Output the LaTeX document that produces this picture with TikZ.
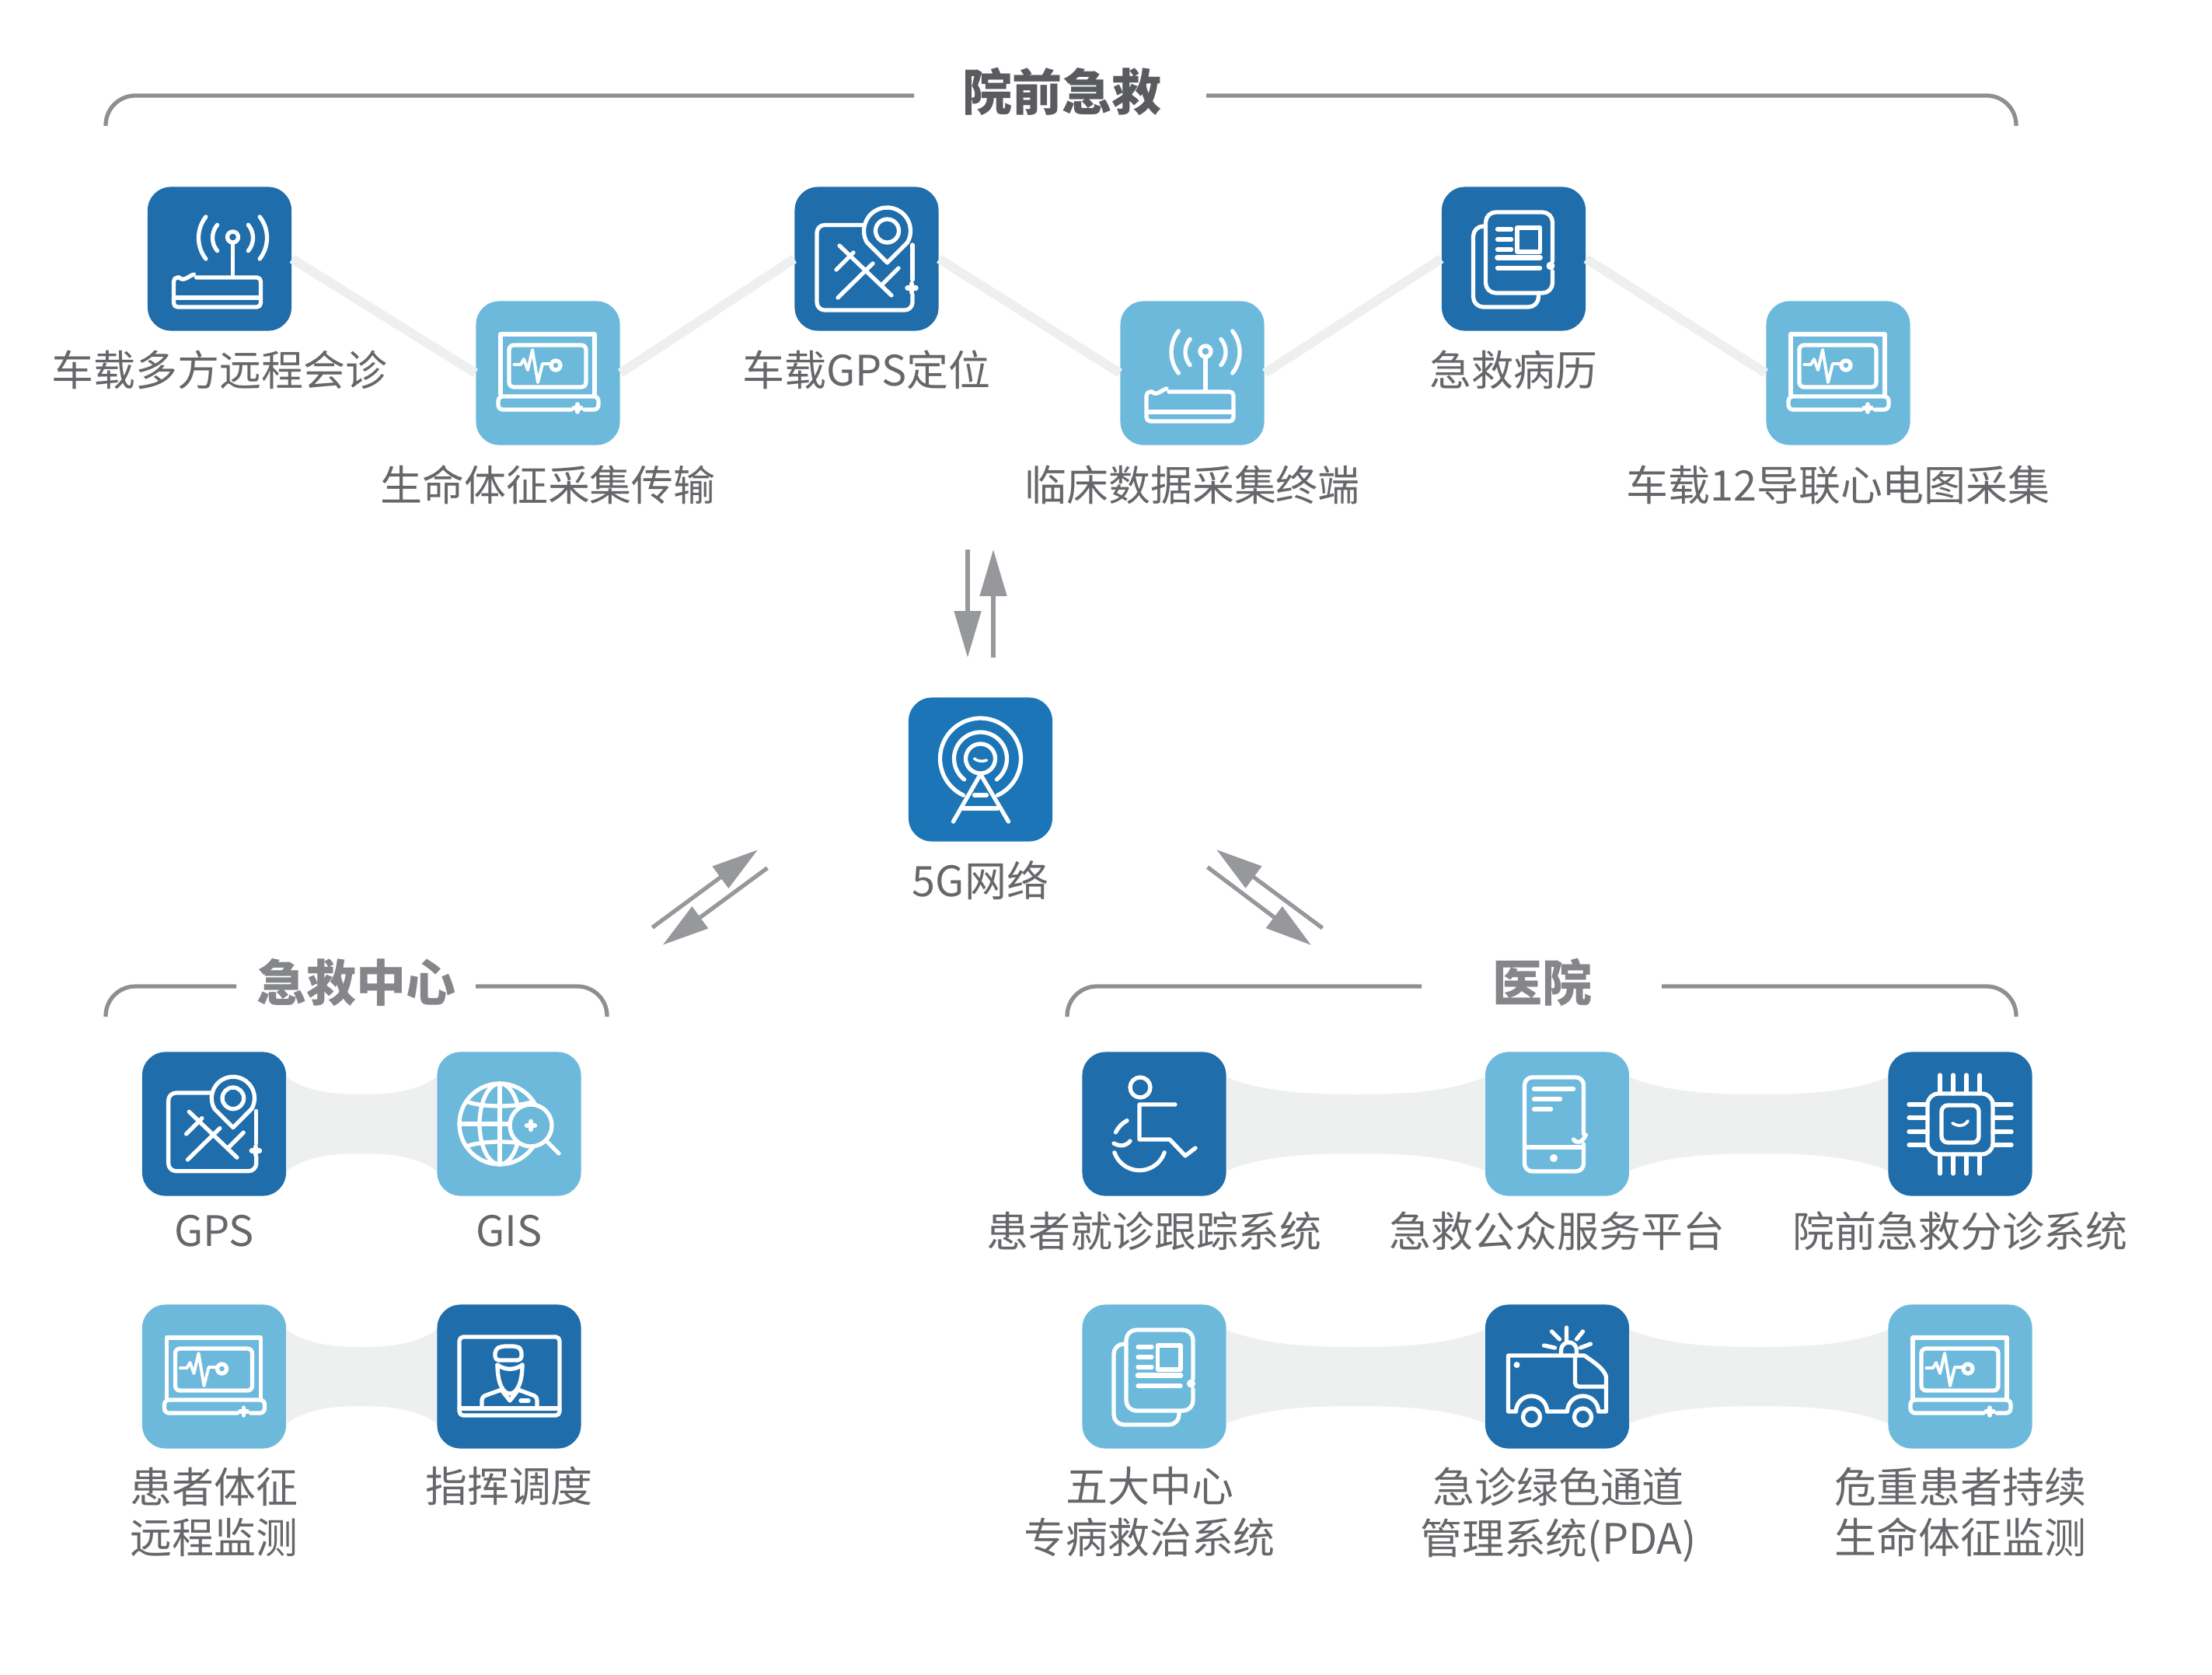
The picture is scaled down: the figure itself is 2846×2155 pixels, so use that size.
\documentclass[tikz,border=0pt]{standalone}
\usepackage{fontspec}
\setmainfont{Noto Sans CJK SC}
\usetikzlibrary{arrows.meta,calc}
\definecolor{boxdark}{HTML}{1F6DAB}
\definecolor{boxnet}{HTML}{1B75B7}
\definecolor{boxlight}{HTML}{6DB9DC}
\definecolor{txt}{HTML}{66676A}
\definecolor{ttl}{HTML}{85868A}
\definecolor{ttltop}{HTML}{5A5B5F}
\definecolor{brk}{HTML}{8E8F92}
\definecolor{arrc}{HTML}{97989C}
\definecolor{bandc}{HTML}{EEF0F0}
\tikzset{
  iconbox/.style={minimum size=1.85cm,inner sep=0pt,rounded corners=0.3cm,draw=none},
  dbox/.style={iconbox,fill=boxdark},
  nbox/.style={iconbox,fill=boxnet},
  lbox/.style={iconbox,fill=boxlight},
  lab/.style={font=\fontsize{15.35}{18.5}\selectfont,text=txt,align=center,inner sep=0pt,anchor=center},
  ttlstyle/.style={font=\fontsize{18.2}{20}\selectfont\bfseries,text=ttl,inner sep=0pt,anchor=center},
  brkline/.style={draw=brk,line width=1.5pt,rounded corners=0.38cm},
  zig/.style={draw=bandc,line width=3.4pt},
  arr/.style={draw=arrc,line width=1.5pt,-{Triangle[length=17pt,width=9.6pt]}},
  ic/.style={draw=white,line width=1.5pt,line cap=round,line join=round},
  icrouter/.pic={
    \draw[ic] (17,-28) circle[radius=7];
    \draw[ic] (17,-21) -- (17,23);
    \draw[ic] (17,-27)+(-40:26) arc[start angle=-40,end angle=40,radius=26];
    \draw[ic] (17,-27)+(140:26) arc[start angle=140,end angle=220,radius=26];
    \draw[ic] (17,-27)+(-38:44) arc[start angle=-38,end angle=38,radius=44];
    \draw[ic] (17,-27)+(142:44) arc[start angle=142,end angle=218,radius=44];
    \draw[ic,rounded corners=0.05cm] (-30,24) -- (53,24) -- (53,62) -- (-59,62) -- (-59,24) -- (-52,24);
    \draw[ic] (-52,24) .. controls (-46,30) and (-40,22) .. (-33,20);
    \draw[ic] (-59,50) -- (53,50);
  },
  iclaptop/.pic={
    \draw[ic] (-61,28) -- (-61,-50) -- (60,-50) -- (60,28);
    \draw[ic,rounded corners=0.06cm] (-50,-36) rectangle (49,18);
    \draw[ic,rounded corners=0.06cm] (30,47) -- (-64,47) -- (-64,30) -- (65,30) -- (65,47) -- (47,47);
    \draw[ic] (38,40) -- (38,50) (33,45) -- (43,45);
    \draw[ic,line width=1.1pt] (-44,-11) -- (-35,-11) -- (-31,-18) -- (-26,-4) -- (-20,-30) -- (-13,12) -- (-7,-12) -- (4,-12);
    \draw[ic] (10,-10) circle[radius=6];
  },
  icmap/.pic={
    \draw[ic,rounded corners=0.1cm] (-4,-43.5) -- (-64,-43.5) -- (-64,66) -- (59,66) -- (59,46);
    \draw[ic] (59,-18) -- (59,27);
    \draw[ic] (0.5,-21) arc[start angle=150,end angle=390,radius=30] -- (26.5,5) -- cycle;
    \draw[ic] (26.5,-36) circle[radius=15];
    \draw[ic] (-35,-17) -- (32,47);
    \draw[ic] (-37,50) -- (8,6);
    \draw[ic] (-39,14) -- (-17,-8);
    \draw[ic] (19,34) -- (41,12);
    \draw[ic,line width=1.8pt] (58,32) -- (58,43) (52.5,37.5) -- (63.5,37.5);
  },
  icdoc/.pic={
    \draw[ic,rounded corners=0.13cm] (50,3) -- (50,-60) -- (-36,-60) -- (-36,44) -- (50,44) -- (50,16);
    \draw[ic,rounded corners=0.13cm] (-36,-42) -- (-52,-42) -- (-52,62) -- (32,62) -- (32,44);
    \draw[ic] (4.5,-40) rectangle (34,-9);
    \draw[ic] (-21,-38) -- (-3,-38) (-21,-25) -- (-3,-25) (-21,-12) -- (-3,-12);
    \draw[ic,line width=1.9pt] (-21,-1.5) -- (34,-1.5);
    \draw[ic] (-21,12) -- (34,12);
    \fill[white] (47.5,9) circle[radius=5.5];
  },
  ictower/.pic={
    \draw[ic] (0,-14)+(115:52) arc[start angle=115,end angle=425,radius=52];
    \draw[ic] (0,-14)+(128:34) arc[start angle=128,end angle=412,radius=34];
    \draw[ic] (0,-14) circle[radius=19];
    \draw[ic] (-35,67) -- (0,6) -- (36,67);
    \draw[ic] (-22,50) -- (22,50);
    \draw[ic] (-8,33) -- (8,33);
    \draw[ic,line width=1pt] (-8,-14) .. controls (-3,-10) and (3,-10) .. (8,-12);
  },
  icglobe/.pic={
    \draw[ic] (-12,0) circle[radius=52];
    \draw[ic] (-12,0) ellipse[x radius=26,y radius=52];
    \draw[ic] (-12,-52) -- (-12,52) (-64,0) -- (40,0);
    \draw[ic] (-55,-29) .. controls (-35,-21) and (11,-21) .. (31,-29);
    \draw[ic] (-55,29) .. controls (-35,21) and (11,21) .. (31,29);
    \draw[ic,fill=boxlight] (28,2) circle[radius=27];
    \draw[ic] (47,21) -- (64,38);
    \draw[ic,line width=1.8pt] (28,-3) -- (28,7) (23,2) -- (33,2);
  },
  icdoctor/.pic={
    \draw[ic,rounded corners=0.05cm] (-64,-51) rectangle (65,50);
    \draw[ic] (-64,41) -- (65,41);
    \draw[ic,rounded corners=0.05cm] (-18,-21) -- (-18,-35) -- (-10,-39) -- (10,-39) -- (16,-35) -- (16,-21) -- cycle;
    \draw[ic] (-15,-15) .. controls (-15,8) and (-8,22) .. (1,22) .. controls (10,22) and (17,8) .. (17,-15);
    \draw[ic] (-15,-15) .. controls (-5,-8) and (7,-8) .. (17,-15);
    \draw[ic,rounded corners=0.04cm] (-35,39) -- (-35,26) -- (-10,17);
    \draw[ic,rounded corners=0.04cm] (36,39) -- (36,26) -- (12,17);
    \draw[ic] (-10,17) -- (1,31) -- (12,17);
    \draw[ic] (15,31) -- (25,31);
  },
  icchair/.pic={
    \draw[ic] (-18,-47) circle[radius=13];
    \draw[ic] (27,-25) -- (-19,-25) -- (-19,20) -- (20,20) -- (40,41) -- (53,31);
    \draw[ic] (-19,25.7)+(19:34) arc[start angle=19,end angle=161,radius=34];
    \draw[ic] (-19,25.7)+(206:34) arc[start angle=206,end angle=242,radius=34];
    \draw[ic] (-52,25) .. controls (-42,30) and (-36,28) .. (-31,22);
  },
  icphone/.pic={
    \draw[ic,rounded corners=0.1cm] (34,13) -- (34,-60) -- (-42,-60) -- (-42,61) -- (34,61) -- (34,26);
    \draw[ic] (-42,30) -- (34,30);
    \fill[white] (-4.5,44) circle[radius=5];
    \draw[ic] (-30,-45) -- (21,-45);
    \draw[ic] (-30,-32) -- (4,-32);
    \draw[ic] (-30,-19) -- (-8,-19);
    \draw[ic] (21,20) .. controls (26,26) and (32,24) .. (37,14);
  },
  icchip/.pic={
    \draw[ic,rounded corners=0.14cm] (-42,-39) rectangle (42,39);
    \draw[ic,rounded corners=0.08cm] (-24,-24) rectangle (24,24);
    \foreach \p in {-26,-9,8,25} {
      \draw[ic] (\p,-63) -- (\p,-39) (\p,39) -- (\p,64);
    }
    \foreach \p in {-25,-8,10,27} {
      \draw[ic] (-66,\p) -- (-42,\p) (42,\p) -- (66,\p);
    }
    \draw[ic,line width=1.1pt] (-10,-1) .. controls (-4,3) and (5,4) .. (10,-4);
  },
  icamb/.pic={
    \draw[ic] (-63,-27) -- (35,-27) .. controls (48,-18) and (60,-10) .. (63,0) -- (63,45) -- (53,45)
      arc[start angle=0,end angle=-180,radius=20] -- (-13,45)
      arc[start angle=0,end angle=-180,radius=20] -- (-63,45) -- cycle;
    \draw[ic,rounded corners=0.05cm] (23,-25) -- (23,13) -- (63,13);
    \draw[ic] (-33,52) circle[radius=11];
    \draw[ic] (33,52) circle[radius=11];
    \draw[ic] (5,-28) -- (5,-34) arc[start angle=180,end angle=360,radius=10] -- (25,-28);
    \draw[ic] (12,-63) -- (12,-47) (-7,-58) -- (3,-48) (33,-58) -- (25,-48) (-17,-40) -- (-3,-37) (43,-42) -- (30,-37);
    \fill[white] (-52,-15) circle[radius=4];
  },
}
\newcommand{\bandlink}[2]{%
  \fill[bandc] ($(#1.east)+(0,-60)$)
    .. controls ($(#1.east)!.13!(#2.west)+(0,-43)$) and ($(#1.east)!.28!(#2.west)+(0,-38)$) .. ($(#1.east)!.5!(#2.west)+(0,-38)$)
    .. controls ($(#1.east)!.72!(#2.west)+(0,-38)$) and ($(#1.east)!.87!(#2.west)+(0,-43)$) .. ($(#2.west)+(0,-60)$)
    -- ($(#2.west)+(0,60)$)
    .. controls ($(#1.east)!.87!(#2.west)+(0,43)$) and ($(#1.east)!.72!(#2.west)+(0,38)$) .. ($(#1.east)!.5!(#2.west)+(0,38)$)
    .. controls ($(#1.east)!.28!(#2.west)+(0,38)$) and ($(#1.east)!.13!(#2.west)+(0,43)$) .. ($(#1.east)+(0,60)$) -- cycle;}
\begin{document}
\begin{tikzpicture}[x=0.01cm,y=-0.01cm]
\useasboundingbox (0,0) rectangle (2846,2155);
\fill[white] (0,0) rectangle (2846,2155);
% top boxes
\node[dbox] (b1) at (282.5,333) {};
\node[lbox] (b2) at (705,480) {};
\node[dbox] (b3) at (1115,333) {};
\node[lbox] (b4) at (1534,480) {};
\node[dbox] (b5) at (1947.5,333) {};
\node[lbox] (b6) at (2365,480) {};
\node[nbox] (net) at (1261.5,990) {};
% left group
\node[dbox] (c1) at (275.5,1446) {};
\node[lbox] (c2) at (655,1446) {};
\node[lbox] (c3) at (275.5,1771) {};
\node[dbox] (c4) at (655,1771) {};
% right group
\node[dbox] (d1) at (1485,1446) {};
\node[lbox] (d2) at (2003.5,1446) {};
\node[dbox] (d3) at (2522,1446) {};
\node[lbox] (d4) at (1485,1771) {};
\node[dbox] (d5) at (2003.5,1771) {};
\node[lbox] (d6) at (2522,1771) {};
% connectors
\draw[zig] (b1.east) -- (b2.west);
\draw[zig] (b2.east) -- (b3.west);
\draw[zig] (b3.east) -- (b4.west);
\draw[zig] (b4.east) -- (b5.west);
\draw[zig] (b5.east) -- (b6.west);
\bandlink{c1}{c2}
\bandlink{c3}{c4}
\bandlink{d1}{d2}
\bandlink{d2}{d3}
\bandlink{d4}{d5}
\bandlink{d5}{d6}
% icons
\pic at (b1) {icrouter};
\pic at (b2) {iclaptop};
\pic at (b3) {icmap};
\pic at (b4) {icrouter};
\pic at (b5) {icdoc};
\pic at (b6) {iclaptop};
\pic at (net) {ictower};
\pic[scale=.92] at (c1) {icmap};
\pic at (c2) {icglobe};
\pic at (c3) {iclaptop};
\pic at (c4) {icdoctor};
\pic at (d1) {icchair};
\pic at (d2) {icphone};
\pic at (d3) {icchip};
\pic at (d4) {icdoc};
\pic at (d5) {icamb};
\pic at (d6) {iclaptop};
% labels
\node[lab] (l1) at (282.5,476) {车载多方远程会诊};
\node[lab] (l2) at (705,624) {生命体征采集传输};
\node[lab] (l3) at (1115,476) {车载GPS定位};
\node[lab] (l4) at (1534,624) {临床数据采集终端};
\node[lab] (l5) at (1947.5,476) {急救病历};
\node[lab] (l6) at (2365,624) {车载12导联心电图采集};
\node[lab] (lnet) at (1261.5,1133) {5G网络};
\node[lab] (lc1) at (275.5,1584) {GPS};
\node[lab] (lc2) at (655,1584) {GIS};
\node[lab] (lc3) at (275.5,1945) {患者体征\\远程监测};
\node[lab] (lc4) at (655,1912) {指挥调度};
\node[lab] (ld1) at (1485,1584) {患者就诊跟踪系统};
\node[lab] (ld2) at (2003.5,1584) {急救公众服务平台};
\node[lab] (ld3) at (2522,1584) {院前急救分诊系统};
\node[lab] (ld4) at (1479,1945) {五大中心\\专病救治系统};
\node[lab] (ld5) at (2005,1949) {急诊绿色通道\\管理系统(PDA)};
\node[lab] (ld6) at (2522,1945) {危重患者持续\\生命体征监测};
% titles
\node[ttlstyle,text=ttltop] (t1) at (1366,118) {院前急救};
\node[ttlstyle] (t2) at (458,1264) {急救中心};
\node[ttlstyle] (t3) at (1984,1264) {医院};
% brackets
\coordinate (ta) at (136,162);
\coordinate (tb) at (1176,123);
\coordinate (tc) at (1552,123);
\coordinate (td) at (2594,162);
\draw[brkline] (ta) |- (tb);
\draw[brkline] (tc) -| (td);
\coordinate (la) at (136,1308);
\coordinate (lb) at (304,1269);
\coordinate (lc) at (612,1269);
\coordinate (ld) at (781,1308);
\draw[brkline] (la) |- (lb);
\draw[brkline] (lc) -| (ld);
\coordinate (ra) at (1373,1308);
\coordinate (rb) at (1829,1269);
\coordinate (rc) at (2138,1269);
\coordinate (rd) at (2594,1308);
\draw[brkline] (ra) |- (rb);
\draw[brkline] (rc) -| (rd);
% arrows
\coordinate (v1a) at (1245,707);
\coordinate (v1b) at (1245,846);
\coordinate (v2a) at (1278,846);
\coordinate (v2b) at (1278,707);
\draw[arr] (v1a) -- (v1b);
\draw[arr] (v2a) -- (v2b);
\coordinate (a1a) at (839.3,1193.3);
\coordinate (a1b) at (975,1093.3);
\coordinate (a2a) at (987.3,1116.7);
\coordinate (a2b) at (852.7,1215.7);
\draw[arr] (a1a) -- (a1b);
\draw[arr] (a2a) -- (a2b);
\coordinate (a3a) at (1701.5,1194);
\coordinate (a3b) at (1565,1093);
\coordinate (a4a) at (1553.6,1115.6);
\coordinate (a4b) at (1687,1216);
\draw[arr] (a3a) -- (a3b);
\draw[arr] (a4a) -- (a4b);
\end{tikzpicture}
\end{document}
